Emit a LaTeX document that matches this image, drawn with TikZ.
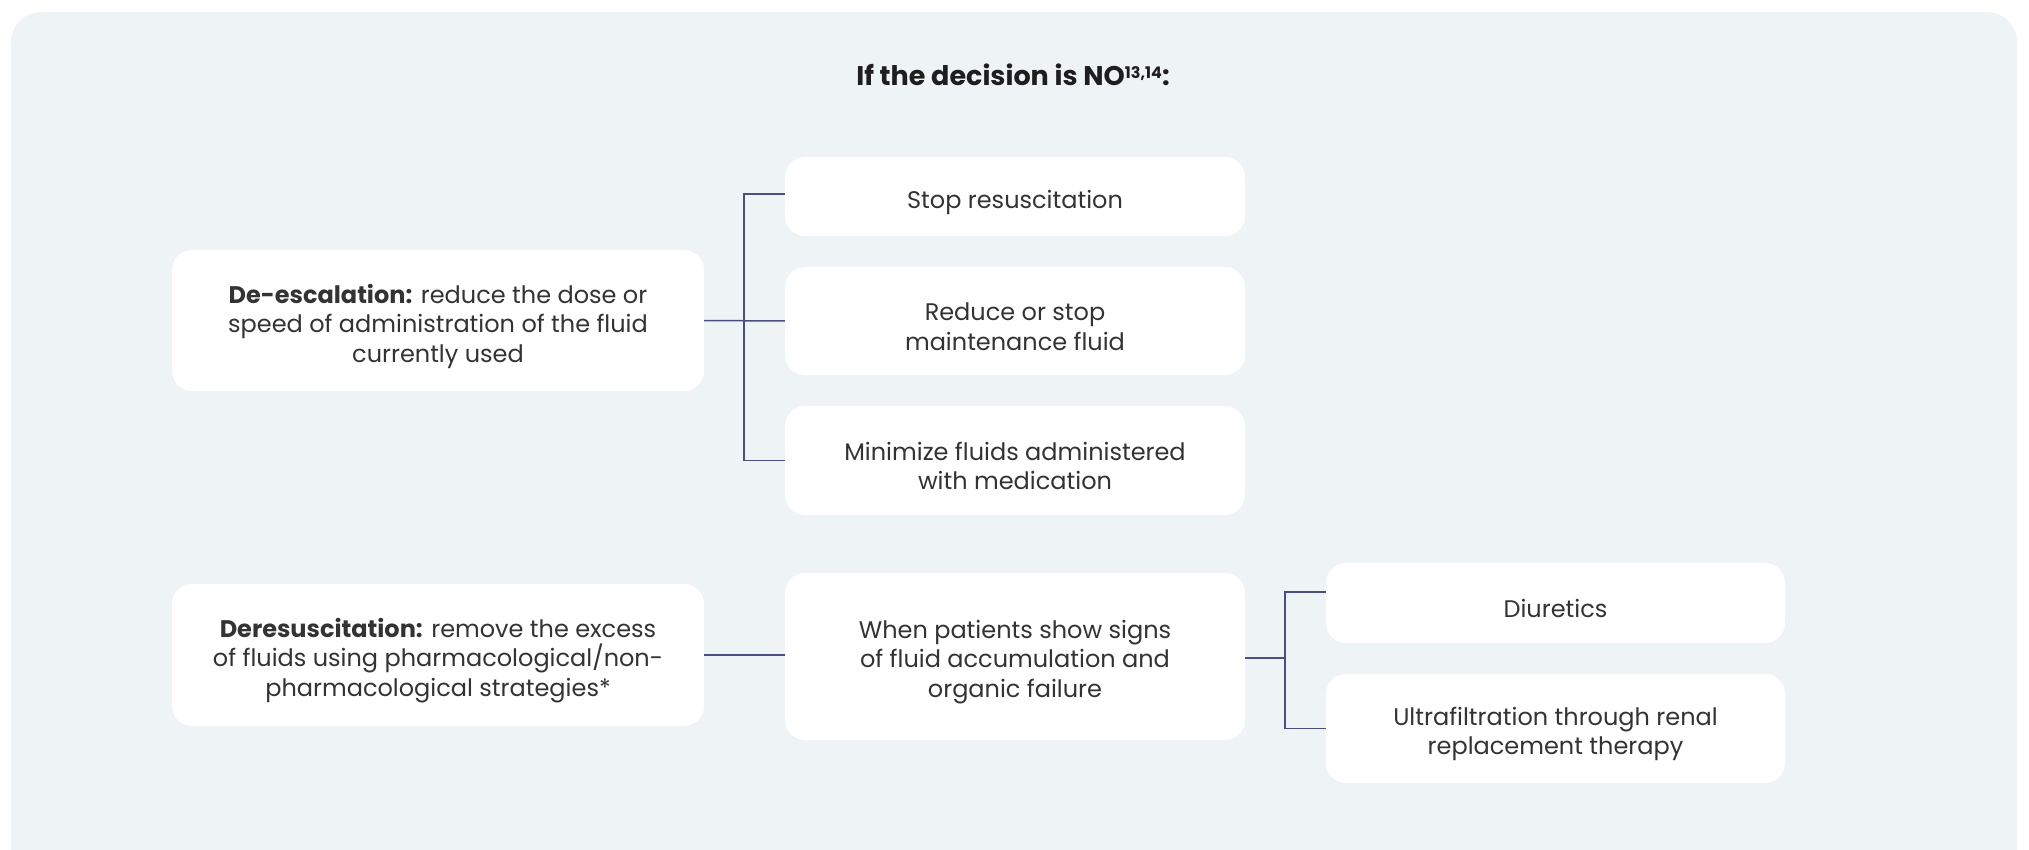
\documentclass[tikz,border=0pt]{standalone}
\usepackage{fontspec}
\setmainfont{Poppins}
\usetikzlibrary{calc}
\definecolor{bgc}{HTML}{EEF3F6}
\definecolor{txt}{HTML}{333333}
\definecolor{ttl}{HTML}{1E1E1E}
\definecolor{lnc}{HTML}{4A4E80}
\begin{document}
\begin{tikzpicture}[x=1pt,y=-1pt,
  box/.style={fill=white,draw=none,rounded corners=20pt,inner sep=0pt},
  txtn/.style={align=center,text=txt,font=\fontsize{24}{29.5}\selectfont,inner sep=0pt,yshift=-5.5pt},
  conn/.style={draw=lnc,line width=1.5pt}]
\useasboundingbox (0,0) rectangle (2029,850);
\clip (0,0) rectangle (2029,850);
\fill[bgc,rounded corners=30pt] (11,12) rectangle (2017,890);
\node[text=ttl,font=\fontsize{27}{30}\selectfont\bfseries] (title) at (1013,75) {If the decision is NO{\fontsize{16}{16}\selectfont\raisebox{7pt}{13,14}}:};
\node[box,minimum width=532pt,minimum height=141pt,label={[txtn]center:{\textbf{De-escalation:} reduce the dose or\\speed of administration of the fluid\\currently used}}] (desc) at (438,320.5) {};
\node[box,minimum width=460pt,minimum height=79pt,label={[txtn]center:{Stop resuscitation}}] (stop) at (1015,196.5) {};
\node[box,minimum width=460pt,minimum height=108pt,label={[txtn]center:{Reduce or stop\\maintenance fluid}}] (reduce) at (1015,321) {};
\node[box,minimum width=460pt,minimum height=109pt,label={[txtn]center:{Minimize fluids administered\\with medication}}] (mini) at (1015,460.5) {};
\node[box,minimum width=532pt,minimum height=142pt,label={[txtn]center:{\textbf{Deresuscitation:} remove the excess\\of fluids using pharmacological/non-\\pharmacological strategies*}}] (deres) at (438,655) {};
\node[box,minimum width=460pt,minimum height=167pt,label={[txtn]center:{When patients show signs\\of fluid accumulation and\\organic failure}}] (when) at (1015,656.5) {};
\node[box,minimum width=459pt,minimum height=80pt,label={[txtn]center:{Diuretics}}] (diur) at (1555.5,603) {};
\node[box,minimum width=459pt,minimum height=109pt,label={[txtn]center:{Ultrafiltration through renal\\replacement therapy}}] (ultra) at (1555.5,728.5) {};
\coordinate (j1) at (744,321);
\coordinate (j2) at (1285,658);
\draw[conn] (desc.east) -- (reduce.west);
\draw[conn] ([yshift=2.5pt]stop.west) -| (j1) |- (mini.west);
\draw[conn] (deres.east) -- (when.west |- deres.east);
\draw[conn] (when.east |- j2) -- (j2);
\draw[conn] ([yshift=11pt]diur.west) -| (j2) |- (ultra.west);
\end{tikzpicture}
\end{document}
